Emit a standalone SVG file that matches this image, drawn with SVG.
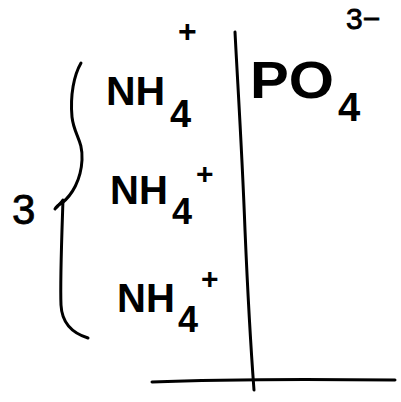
<svg xmlns="http://www.w3.org/2000/svg" width="401" height="402" viewBox="0 0 401 402">
<style>
.ln{fill:none;stroke:#000;stroke-width:3;stroke-linecap:round;stroke-linejoin:round}
.t{font-family:"Liberation Sans",Arial,sans-serif;fill:#000;font-weight:bold}
.n{font-family:"Liberation Sans",Arial,sans-serif;fill:#000;stroke:#000;stroke-width:0.8}
</style>
<rect width="401" height="402" fill="#fff"/>
<g id="lines">
<path class="ln" d="M235,32 C238,90 242,150 245,230 C248,300 251,350 254,390"/>
<path class="ln" d="M152,382 C200,380 300,379 395,380"/>
<path class="ln" d="M81,63 C74,75 70,95 72,117 C74,135 83,140 82,160 C81,180 72,195 62,203 C58,205 56,207 55,209"/>
<path class="ln" d="M57,207 C60,203 62,202 63,200 C62,230 60,280 61,305 C62,325 75,334 88,338"/>
</g>
<g id="nh4-1">
<text class="t" x="106" y="105" font-size="41">NH</text>
<text class="t" x="170" y="127" font-size="38">4</text>
<text class="t" x="178" y="42" font-size="32">+</text>
</g>
<g id="nh4-2">
<text class="t" x="110" y="204" font-size="40">NH</text>
<text class="t" x="172" y="224" font-size="36">4</text>
<text class="t" x="196" y="184" font-size="30">+</text>
</g>
<g id="nh4-3">
<text class="t" x="117" y="312" font-size="40">NH</text>
<text class="t" x="178" y="332" font-size="36">4</text>
<text class="t" x="201" y="289" font-size="30">+</text>
</g>
<g id="po4">
<text class="t" x="250" y="98" font-size="52" textLength="84" lengthAdjust="spacingAndGlyphs">PO</text>
<text class="t" x="338" y="121" font-size="40">4</text>
<text class="n" x="346" y="29" font-size="30">3−</text>
</g>
<g id="coef">
<text class="n" x="12" y="224" font-size="42">3</text>
</g>
</svg>
